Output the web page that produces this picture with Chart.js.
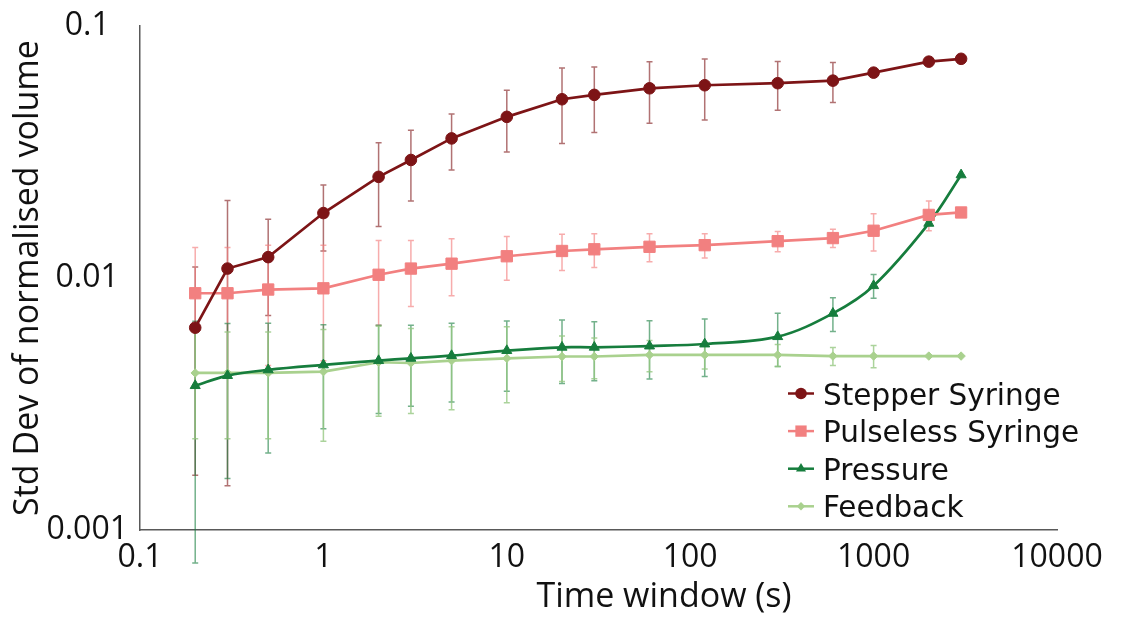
<!DOCTYPE html>
<html>
<head>
<meta charset="utf-8">
<script src="https://cdn.jsdelivr.net/npm/chart.js@4.4.0/dist/chart.umd.min.js"></script>
<style>
  html, body { margin: 0; padding: 0; background: #fff; }
</style>
</head>
<body>
<canvas id="chart" width="1133" height="619"></canvas>
<script>
// time windows (s)
const timeWindow = [0.2, 0.3, 0.5, 1, 2, 3, 5, 10, 20, 30, 60, 120, 300, 600, 1000, 2000, 3000];

const stepperY   = [0.00635, 0.0109, 0.0121, 0.0181, 0.0252, 0.0294, 0.0358, 0.0436, 0.0512, 0.0533, 0.0566, 0.0582, 0.0593, 0.0607, 0.0653, 0.0722, 0.0741];
const stepperErr = [0.0047, 0.0094, 0.005, 0.0053, 0.0092, 0.0092, 0.009, 0.012, 0.017, 0.0155, 0.0155, 0.0158, 0.013, 0.011, 0, 0, 0];

const pulselessY   = [0.0087, 0.0087, 0.009, 0.0091, 0.0103, 0.0109, 0.0114, 0.0122, 0.0128, 0.0130, 0.0133, 0.0135, 0.0140, 0.0144, 0.0154, 0.0178, 0.0182];
const pulselessErr = [0.0045, 0.0045, 0.0045, 0.0044, 0.0038, 0.0032, 0.0029, 0.0024, 0.0021, 0.0020, 0.0017, 0.0015, 0.0013, 0.0012, 0.0026, 0.0024, 0];

const pressureY   = [0.00374, 0.0041, 0.00432, 0.00452, 0.0047, 0.0048, 0.00492, 0.00515, 0.00531, 0.00531, 0.00537, 0.00547, 0.00585, 0.00724, 0.00932, 0.01648, 0.02565];
const pressureErr = [0.003, 0.0025, 0.0023, 0.002, 0.0018, 0.0017, 0.0017, 0.0016, 0.0015, 0.0014, 0.0014, 0.0014, 0.0014, 0.0011, 0.001, 0.0003, 0];

const feedbackY   = [0.0042, 0.0042, 0.0042, 0.00425, 0.00463, 0.0046, 0.0047, 0.0048, 0.00488, 0.00488, 0.00495, 0.00495, 0.00495, 0.0049, 0.0049, 0.0049, 0.0049];
const feedbackErr = [0.0019, 0.0019, 0.0019, 0.002, 0.0018, 0.0017, 0.0017, 0.0016, 0.001, 0.0009, 0.0007, 0.0006, 0.0005, 0.0004, 0.0005, 0, 0];

const xTicks = [0.1, 1, 10, 100, 1000, 10000];
const yTicks = [0.001, 0.01, 0.1];

const xTitle = 'Time window (s)';
const yTitle = 'Std Dev of normalised volume';

function pts(ys) {
    return timeWindow.map((t, i) => ({ x: t, y: ys[i] }));
}

function series(label, ys, err, color, errColor, style, radius, tension) {
    return {
        label: label,
        data: pts(ys),
        err: err,
        errColor: errColor,
        borderColor: color,
        backgroundColor: color,
        pointBackgroundColor: color,
        pointBorderColor: color,
        pointBorderWidth: 1,
        pointStyle: style,
        pointRadius: radius,
        borderWidth: 2.7,
        tension: tension || 0,
        fill: false,
    };
}

// error bars drawn under the lines, not clipped to the plot area
const errorBars = {
    id: 'errorBars',
    beforeDatasetsDraw(chart) {
        const ctx = chart.ctx;
        const ys = chart.scales.y;
        chart.data.datasets.forEach((ds, i) => {
            const meta = chart.getDatasetMeta(i);
            ctx.save();
            ctx.strokeStyle = ds.errColor;
            ctx.lineWidth = 1.5;
            meta.data.forEach((pt, j) => {
                const e = ds.err[j];
                if (!e) return;
                const v = ds.data[j].y;
                const top = ys.getPixelForValue(v + e);
                const bot = ys.getPixelForValue(Math.max(v - e, 1e-5));
                ctx.beginPath();
                ctx.moveTo(pt.x, top);
                ctx.lineTo(pt.x, bot);
                ctx.moveTo(pt.x - 3, top);
                ctx.lineTo(pt.x + 3, top);
                ctx.moveTo(pt.x - 3, bot);
                ctx.lineTo(pt.x + 3, bot);
                ctx.stroke();
            });
            ctx.restore();
        });
    }
};

function drawMarker(ctx, style, x, y, r) {
    ctx.beginPath();
    if (style === 'circle') {
        ctx.arc(x, y, r, 0, Math.PI * 2);
    } else if (style === 'rect') {
        const s = r * Math.SQRT1_2;
        ctx.rect(x - s, y - s, 2 * s, 2 * s);
    } else if (style === 'triangle') {
        ctx.moveTo(x, y - r);
        ctx.lineTo(x + r * 0.866, y + r * 0.5);
        ctx.lineTo(x - r * 0.866, y + r * 0.5);
        ctx.closePath();
    } else {
        ctx.moveTo(x, y - r);
        ctx.lineTo(x + r, y);
        ctx.lineTo(x, y + r);
        ctx.lineTo(x - r, y);
        ctx.closePath();
    }
    ctx.fill();
}

// legend inside the plot + x axis title
const extras = {
    id: 'extras',
    afterDraw(chart) {
        const ctx = chart.ctx;
        ctx.save();
        chart.data.datasets.forEach((ds, i) => {
            const y = 393.5 + i * 37.6;
            ctx.strokeStyle = ds.borderColor;
            ctx.fillStyle = ds.borderColor;
            ctx.lineWidth = 2.5;
            ctx.beginPath();
            ctx.moveTo(788, y);
            ctx.lineTo(814, y);
            ctx.stroke();
            drawMarker(ctx, ds.pointStyle, 801, y, ds.pointRadius);
            ctx.fillStyle = '#111';
            ctx.font = '29.5px "DejaVu Sans"';
            ctx.textAlign = 'left';
            ctx.textBaseline = 'alphabetic';
            ctx.fillText(ds.label, 823, y + 11);
        });
        ctx.fillStyle = '#111';
        ctx.font = '34px "Open Sans"';
        ctx.textAlign = 'center';
        ctx.textBaseline = 'middle';
        ctx.fillText(xTitle, 664, 597);
        ctx.restore();
    }
};

const ctx = document.getElementById('chart').getContext('2d');
const chart = new Chart(ctx, {
    type: 'line',
    data: {
        datasets: [
            series('Stepper Syringe', stepperY, stepperErr, '#7D1416', 'rgba(125,20,22,0.6)', 'circle', 5.8),
            series('Pulseless Syringe', pulselessY, pulselessErr, '#F28080', 'rgba(242,128,128,0.65)', 'rect', 8),
            series('Pressure', pressureY, pressureErr, '#167D3D', 'rgba(22,125,61,0.6)', 'triangle', 5.8, 0.35),
            series('Feedback', feedbackY, feedbackErr, '#A9D18E', 'rgba(150,200,130,0.8)', 'rectRot', 4.2),
        ]
    },
    options: {
        responsive: false,
        animation: false,
        events: [],
        layout: { padding: { top: 26, right: 76, left: 0, bottom: 0 } },
        plugins: {
            legend: { display: false },
            tooltip: { enabled: false },
        },
        scales: {
            x: {
                type: 'logarithmic',
                position: 'bottom',
                min: 0.1,
                max: 10000,
                afterBuildTicks: s => { s.ticks = xTicks.map(v => ({ value: v })); },
                afterFit: s => { s.height = 89; s.paddingLeft = 0; s.paddingRight = 0; },
                ticks: {
                    callback: v => String(v),
                    font: { family: 'Open Sans', size: 32 },
                    color: '#111',
                    padding: 9,
                    maxRotation: 0,
                    autoSkip: false,
                },
                grid: { display: false, drawTicks: false, tickLength: 0 },
                border: { color: '#595959', width: 1.5 },
            },
            y: {
                type: 'logarithmic',
                min: 0.001,
                max: 0.1,
                afterBuildTicks: s => { s.ticks = yTicks.map(v => ({ value: v })); },
                afterFit: s => { s.width = 140; s.paddingTop = 0; s.paddingBottom = 0; },
                ticks: {
                    callback: v => String(v),
                    font: { family: 'Open Sans', size: 32 },
                    color: '#111',
                    crossAlign: 'center',
                    padding: 12,
                },
                title: {
                    display: true,
                    text: yTitle,
                    font: { family: 'Open Sans', size: 34 },
                    color: '#111',
                    padding: { top: 8, bottom: 0 },
                },
                grid: { display: false, drawTicks: false, tickLength: 0 },
                border: { color: '#595959', width: 1.5 },
            }
        }
    },
    plugins: [errorBars, extras]
});
</script>
</body>
</html>
